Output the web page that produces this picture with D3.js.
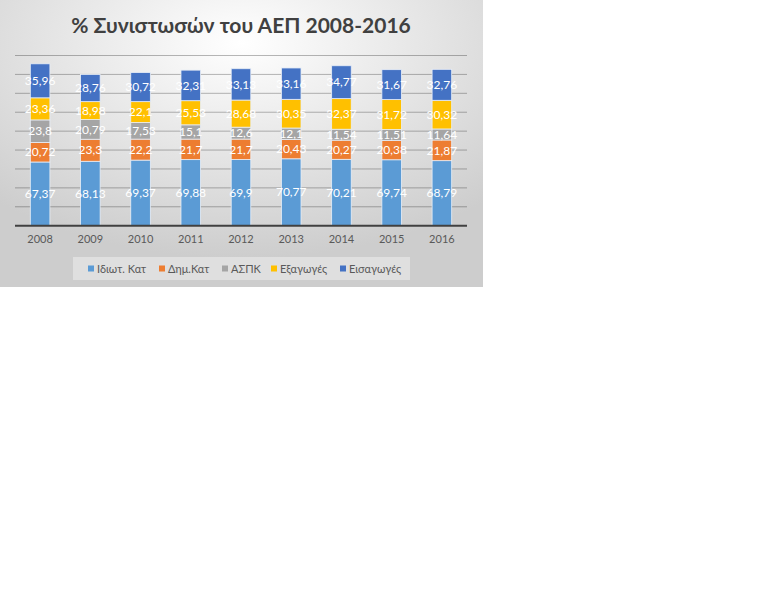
<!DOCTYPE html>
<html lang="el">
<head>
<meta charset="UTF-8">
<title>% Συνιστωσών του ΑΕΠ 2008-2016</title>
<style>
    body { margin: 0; background: #ffffff; }
    svg text { font-family: Lato, "Noto Sans", "DejaVu Sans", sans-serif; }
</style>
</head>
<body>
<div id="chart"></div>
<script src="https://d3js.org/d3.v7.min.js"></script>
<script>
    // Data
    const years = ["2008", "2009", "2010", "2011", "2012", "2013", "2014", "2015", "2016"];
    const seriesNames = ["Ιδιωτ. Κατ", "Δημ.Κατ", "ΑΣΠΚ", "Εξαγωγές", "Εισαγωγές"];
    const privateCons = [67.37, 68.13, 69.37, 69.88, 69.9, 70.77, 70.21, 69.74, 68.79];
    const publicCons = [20.72, 23.3, 22.2, 21.7, 21.7, 20.43, 20.27, 20.38, 21.87];
    const investment = [23.8, 20.79, 17.53, 15.1, 12.6, 12.1, 11.54, 11.51, 11.64];
    const exportsVals = [23.36, 18.98, 22.1, 25.53, 28.68, 30.35, 32.37, 31.72, 30.32];
    const importsVals = [35.96, 28.76, 30.72, 32.31, 33.13, 33.16, 34.77, 31.67, 32.76];
    const yTicks = [0, 20, 40, 60, 80, 100, 120, 140, 160, 180];
    const colors = ["#5b9bd5", "#ed7d31", "#a5a5a5", "#ffc000", "#4472c4"];

    const allSeries = [privateCons, publicCons, investment, exportsVals, importsVals];
    const table = years.map((y, i) => {
        const row = { year: y };
        seriesNames.forEach((s, j) => { row[s] = allSeries[j][i]; });
        return row;
    });

    const W = 768, H = 614;
    const chartW = 483, chartH = 287;
    const margin = { top: 55.5, left: 15, right: 16, bottom: 61.3 };

    const svg = d3.select("#chart").append("svg")
        .attr("width", W)
        .attr("height", H);

    // chart background gradient
    const defs = svg.append("defs");
    const grad = defs.append("radialGradient")
        .attr("id", "bg")
        .attr("cx", "50%").attr("cy", "15%").attr("r", "75%");
    grad.append("stop").attr("offset", "0%").attr("stop-color", "#ffffff");
    grad.append("stop").attr("offset", "100%").attr("stop-color", "#cdcdcd");

    svg.append("rect")
        .attr("width", chartW)
        .attr("height", chartH)
        .attr("fill", "url(#bg)");

    const x = d3.scaleBand()
        .domain(years)
        .range([margin.left, chartW - margin.right])
        .paddingInner(0.61)
        .paddingOuter(0.305);

    const y = d3.scaleLinear()
        .domain([0, 180])
        .range([chartH - margin.bottom, margin.top]);

    // gridlines
    svg.append("g")
        .selectAll("line")
        .data(yTicks.slice(1))
        .join("line")
        .attr("x1", margin.left)
        .attr("x2", chartW - margin.right)
        .attr("y1", d => y(d))
        .attr("y2", d => y(d))
        .attr("stroke", "#000000")
        .attr("stroke-opacity", 0.28)
        .attr("stroke-width", 1);

    // stacked bars
    const stack = d3.stack().keys(seriesNames);
    const layers = stack(table);

    const layerG = svg.append("g")
        .selectAll("g")
        .data(layers)
        .join("g")
        .attr("fill", (d, i) => colors[i]);

    layerG.selectAll("rect")
        .data(d => d)
        .join("rect")
        .attr("x", d => x(d.data.year))
        .attr("y", d => y(d[1]))
        .attr("width", x.bandwidth())
        .attr("height", d => y(d[0]) - y(d[1]))
        .attr("stroke", "#e8eef7")
        .attr("stroke-width", 0.8);

    const fmt = v => String(v).replace(".", ",");

    layerG.selectAll("text")
        .data(d => d.map(p => ({ p, key: d.key })))
        .join("text")
        .attr("x", d => x(d.p.data.year) + x.bandwidth() / 2)
        .attr("y", d => (y(d.p[0]) + y(d.p[1])) / 2)
        .attr("dy", "0.35em")
        .attr("text-anchor", "middle")
        .attr("fill", "#ffffff")
        .attr("font-size", 12)
        .text(d => fmt(d.p.data[d.key]));

    // x axis
    const xAxis = svg.append("g")
        .attr("transform", `translate(0,${y(0)})`)
        .call(d3.axisBottom(x).tickSize(0).tickPadding(10));
    xAxis.select(".domain")
        .attr("stroke", "#404040")
        .attr("stroke-width", 2)
        .attr("d", `M${margin.left},0H${chartW - margin.right}`);
    xAxis.selectAll("text")
        .attr("fill", "#595959")
        .attr("font-size", 11)
        .style("font-family", "Lato, 'Noto Sans', sans-serif");

    // title
    svg.append("text")
        .attr("x", 241)
        .attr("y", 33)
        .attr("text-anchor", "middle")
        .attr("fill", "#404040")
        .attr("font-size", 21)
        .attr("font-weight", "bold")
        .text("% Συνιστωσών του ΑΕΠ 2008-2016");

    // legend
    const legend = svg.append("g");
    legend.append("rect")
        .attr("x", 73).attr("y", 257)
        .attr("width", 337).attr("height", 23)
        .attr("fill", "#e4e4e4")
        .attr("opacity", 0.8);

    const legendX = [88, 159, 222, 271, 340];
    const items = legend.selectAll("g.item")
        .data(seriesNames)
        .join("g")
        .attr("class", "item")
        .attr("transform", (d, i) => `translate(${legendX[i]},269)`);
    items.append("rect")
        .attr("x", 0).attr("y", -3.5)
        .attr("width", 6).attr("height", 6)
        .attr("fill", (d, i) => colors[i]);
    items.append("text")
        .attr("x", 9)
        .attr("dy", "0.35em")
        .attr("fill", "#595959")
        .attr("font-size", 11)
        .text(d => d);
</script>
</body>
</html>
